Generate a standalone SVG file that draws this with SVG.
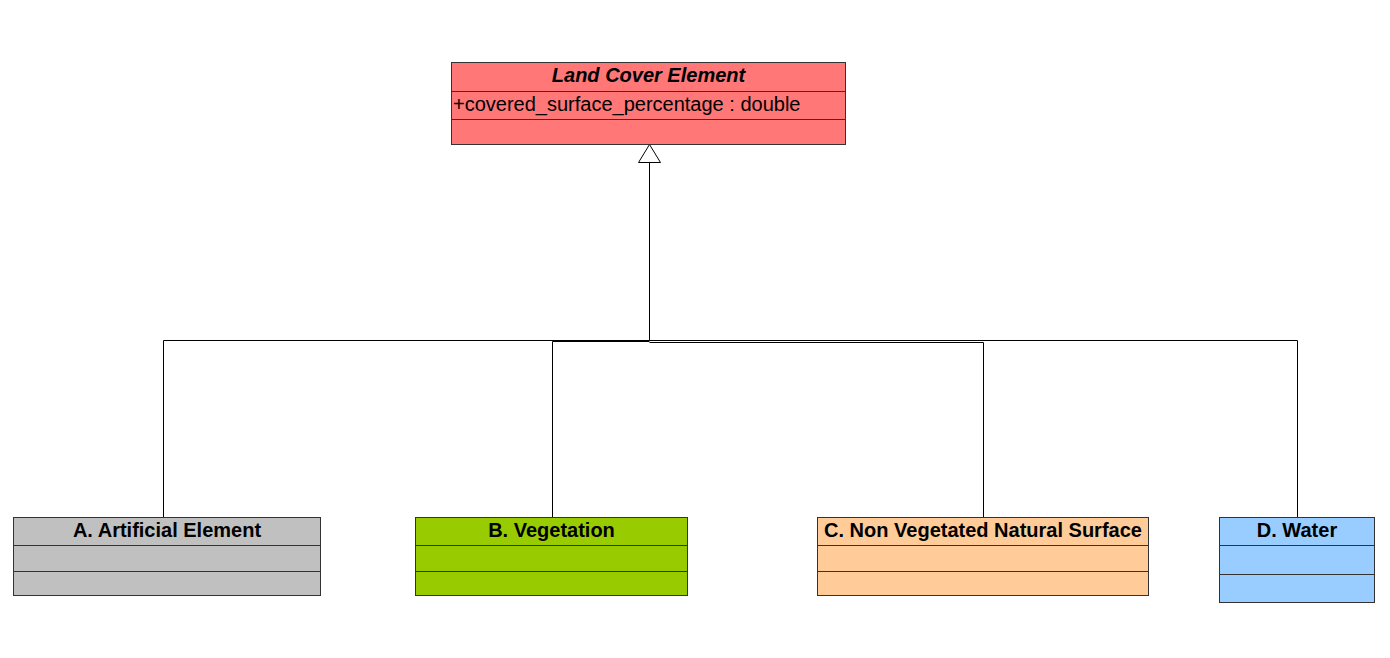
<svg xmlns="http://www.w3.org/2000/svg" width="1390" height="658" viewBox="0 0 1390 658">
<defs>
<style>
.box{stroke:#333;stroke-width:1}
.div{stroke:#333;stroke-width:1}
.t{font-family:"Liberation Sans",Arial,sans-serif;font-size:20px;fill:#000}
.b{font-weight:bold}
.c{fill:none;stroke:#000;stroke-width:1}
</style>
</defs>
<rect width="1390" height="658" fill="#fff"/>
<g id="connectors">
<polyline class="c" points="163.5,517 163.5,340.5 649.5,340.5 649.5,162"/>
<polyline class="c" points="1297.5,517 1297.5,340.5 649.5,340.5"/>
<polyline class="c" points="552.5,517 552.5,341.5 649.5,341.5"/>
<polyline class="c" points="983.5,517 983.5,342.5 649.5,342.5"/>
<polygon points="649.5,144.5 638.5,162.5 660.5,162.5" fill="#fff" stroke="#000" stroke-width="1"/>
</g>
<g id="land-cover-element">
<rect class="box" x="451.5" y="62.5" width="394" height="82" fill="#FF7777"/>
<line class="div" x1="451.5" y1="91.5" x2="845.5" y2="91.5"/>
<line class="div" x1="451.5" y1="119.5" x2="845.5" y2="119.5"/>
<text class="t b" x="648.5" y="82" text-anchor="middle" font-style="italic">Land Cover Element</text>
<text class="t" x="453" y="111">+covered_surface_percentage : double</text>
</g>
<g id="artificial-element">
<rect class="box" x="13.5" y="517.5" width="307" height="78" fill="#C0C0C0"/>
<line class="div" x1="13.5" y1="545.5" x2="320.5" y2="545.5"/>
<line class="div" x1="13.5" y1="571.5" x2="320.5" y2="571.5"/>
<text class="t b" x="167" y="537" text-anchor="middle">A. Artificial Element</text>
</g>
<g id="vegetation">
<rect class="box" x="415.5" y="517.5" width="272" height="78" fill="#99CC00"/>
<line class="div" x1="415.5" y1="545.5" x2="687.5" y2="545.5"/>
<line class="div" x1="415.5" y1="571.5" x2="687.5" y2="571.5"/>
<text class="t b" x="551.5" y="537" text-anchor="middle">B. Vegetation</text>
</g>
<g id="non-vegetated">
<rect class="box" x="817.5" y="517.5" width="331" height="78" fill="#FFCC99"/>
<line class="div" x1="817.5" y1="545.5" x2="1148.5" y2="545.5"/>
<line class="div" x1="817.5" y1="571.5" x2="1148.5" y2="571.5"/>
<text class="t b" x="983" y="537" text-anchor="middle">C. Non Vegetated Natural Surface</text>
</g>
<g id="water">
<rect class="box" x="1219.5" y="517.5" width="155" height="85" fill="#99CCFF"/>
<line class="div" x1="1219.5" y1="545.5" x2="1374.5" y2="545.5"/>
<line class="div" x1="1219.5" y1="574.5" x2="1374.5" y2="574.5"/>
<text class="t b" x="1297" y="537" text-anchor="middle">D. Water</text>
</g>
</svg>
